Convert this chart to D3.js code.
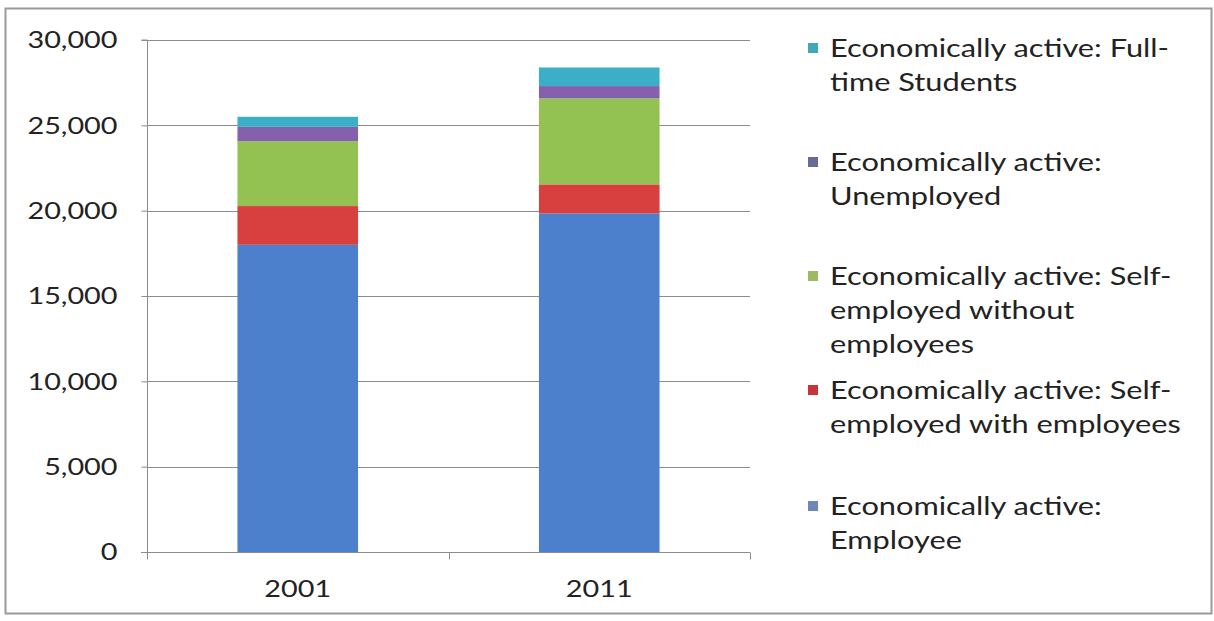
<!DOCTYPE html>
<html>
<head>
<meta charset="utf-8">
<script src="https://cdn.jsdelivr.net/npm/d3@7"></script>
<style>
  html, body { margin: 0; padding: 0; background: #fff; }
  svg text { font-family: Lato, "Open Sans", sans-serif; fill: #222; }
</style>
</head>
<body>
<svg id="chart" width="1214" height="621"></svg>
<script>
// Census years shown on the x axis
const years = ["2001", "2011"];

// Series, stacked bottom to top
const seriesNames = [
  "Economically active: Employee",
  "Economically active: Self-employed with employees",
  "Economically active: Self-employed without employees",
  "Economically active: Unemployed",
  "Economically active: Full-time Students"
];
const employee        = [18000, 19840];
const selfWithEmp     = [2270, 1700];
const selfWithoutEmp  = [3800, 5040];
const unemployed      = [840, 720];
const students        = [590, 1090];

const yTicks = [0, 5000, 10000, 15000, 20000, 25000, 30000];

// Legend entries listed top to bottom, each split into its wrapped lines
const legendLines = [
  ["Economically active: Full-", "time Students"],
  ["Economically active:", "Unemployed"],
  ["Economically active: Self-", "employed without", "employees"],
  ["Economically active: Self-", "employed with employees"],
  ["Economically active:", "Employee"]
];

const colors = ["#4c80cc", "#d8403f", "#93c152", "#8560ae", "#3aafc7"];
const legendColors = ["#3fa8b8", "#6a6a96", "#9cba62", "#c8343c", "#6f86b8"];

// Text is drawn slightly widened horizontally
const sx = 1.2;
const legendSx = 1.23;

const svg = d3.select("#chart");

// Outer frame
svg.append("rect")
  .attr("x", 5.5).attr("y", 8.5)
  .attr("width", 1206).attr("height", 605)
  .attr("fill", "none").attr("stroke", "#9a9a9a").attr("stroke-width", 2);

const plot = { left: 147, right: 750, top: 40, bottom: 552 };

const x = d3.scaleBand().domain(years).range([plot.left, plot.right]).padding(0);
const y = d3.scaleLinear().domain([0, 30000]).range([plot.bottom, plot.top]);

const barW = x.bandwidth() * 0.4;

// Horizontal gridlines
svg.append("g")
  .selectAll("line")
  .data(yTicks.filter(d => d > 0))
  .join("line")
  .attr("x1", plot.left).attr("x2", plot.right)
  .attr("y1", d => Math.round(y(d)) + 0.5).attr("y2", d => Math.round(y(d)) + 0.5)
  .attr("stroke", "#8c8c8c").attr("stroke-width", 1);

// Stacked bars
const rows = years.map((yr, i) => ({
  year: yr,
  s0: employee[i], s1: selfWithEmp[i], s2: selfWithoutEmp[i], s3: unemployed[i], s4: students[i]
}));
const stack = d3.stack().keys(["s0", "s1", "s2", "s3", "s4"]);
const layers = stack(rows);

svg.append("g")
  .selectAll("g")
  .data(layers)
  .join("g")
  .attr("fill", (d, i) => colors[i])
  .selectAll("rect")
  .data(d => d)
  .join("rect")
  .attr("x", d => x(d.data.year) + (x.bandwidth() - barW) / 2)
  .attr("width", barW)
  .attr("y", d => y(d[1]))
  .attr("height", d => y(d[0]) - y(d[1]));

// Y axis
const yAxis = d3.axisLeft(y)
  .tickValues(yTicks)
  .tickSize(6)
  .tickPadding(24)
  .tickFormat(d3.format(","));
const gy = svg.append("g")
  .attr("transform", `translate(${plot.left + 0.5},0)`)
  .call(yAxis);
gy.select(".domain").attr("stroke", "#8c8c8c").attr("d", `M-6,${plot.top}H0V${plot.bottom}`);
gy.selectAll(".tick line").attr("stroke", "#8c8c8c");
gy.selectAll(".tick text")
  .attr("x", -30 / sx)
  .attr("transform", `scale(${sx},1)`)
  .attr("font-size", 24)
  .attr("fill", "#222")
  .style("font-family", "Lato, 'Open Sans', sans-serif");

// X axis
const xAxis = d3.axisBottom(x).tickSize(0).tickPadding(27);
const gx = svg.append("g")
  .attr("transform", `translate(0,${plot.bottom + 0.5})`)
  .call(xAxis);
gx.select(".domain").attr("stroke", "#8c8c8c").attr("d", `M${plot.left - 6},0H${plot.right}`);
gx.selectAll(".tick text")
  .attr("transform", `scale(${sx},1)`)
  .attr("font-size", 24)
  .attr("fill", "#222")
  .style("font-family", "Lato, 'Open Sans', sans-serif");
// Category boundary ticks
const boundaries = [plot.left, x(years[1]), plot.right];
gx.append("g")
  .selectAll("line")
  .data(boundaries)
  .join("line")
  .attr("x1", d => Math.round(d) + 0.5).attr("x2", d => Math.round(d) + 0.5)
  .attr("y1", 0).attr("y2", 7)
  .attr("stroke", "#8c8c8c");

// Legend
const legendTops = [48, 162, 276, 390, 506];
const lineH = 34;
const legend = svg.append("g");
legendLines.forEach((lines, i) => {
  const g = legend.append("g").attr("transform", `translate(0,${legendTops[i]})`);
  g.append("rect")
    .attr("x", 808).attr("y", -5)
    .attr("width", 10).attr("height", 10)
    .attr("fill", legendColors[i]);
  g.selectAll("text")
    .data(lines)
    .join("text")
    .attr("transform", (d, j) => `translate(830,${j * lineH}) scale(${legendSx},1)`)
    .attr("dy", "0.35em")
    .attr("font-size", 25)
    .text(d => d);
});
</script>
</body>
</html>
